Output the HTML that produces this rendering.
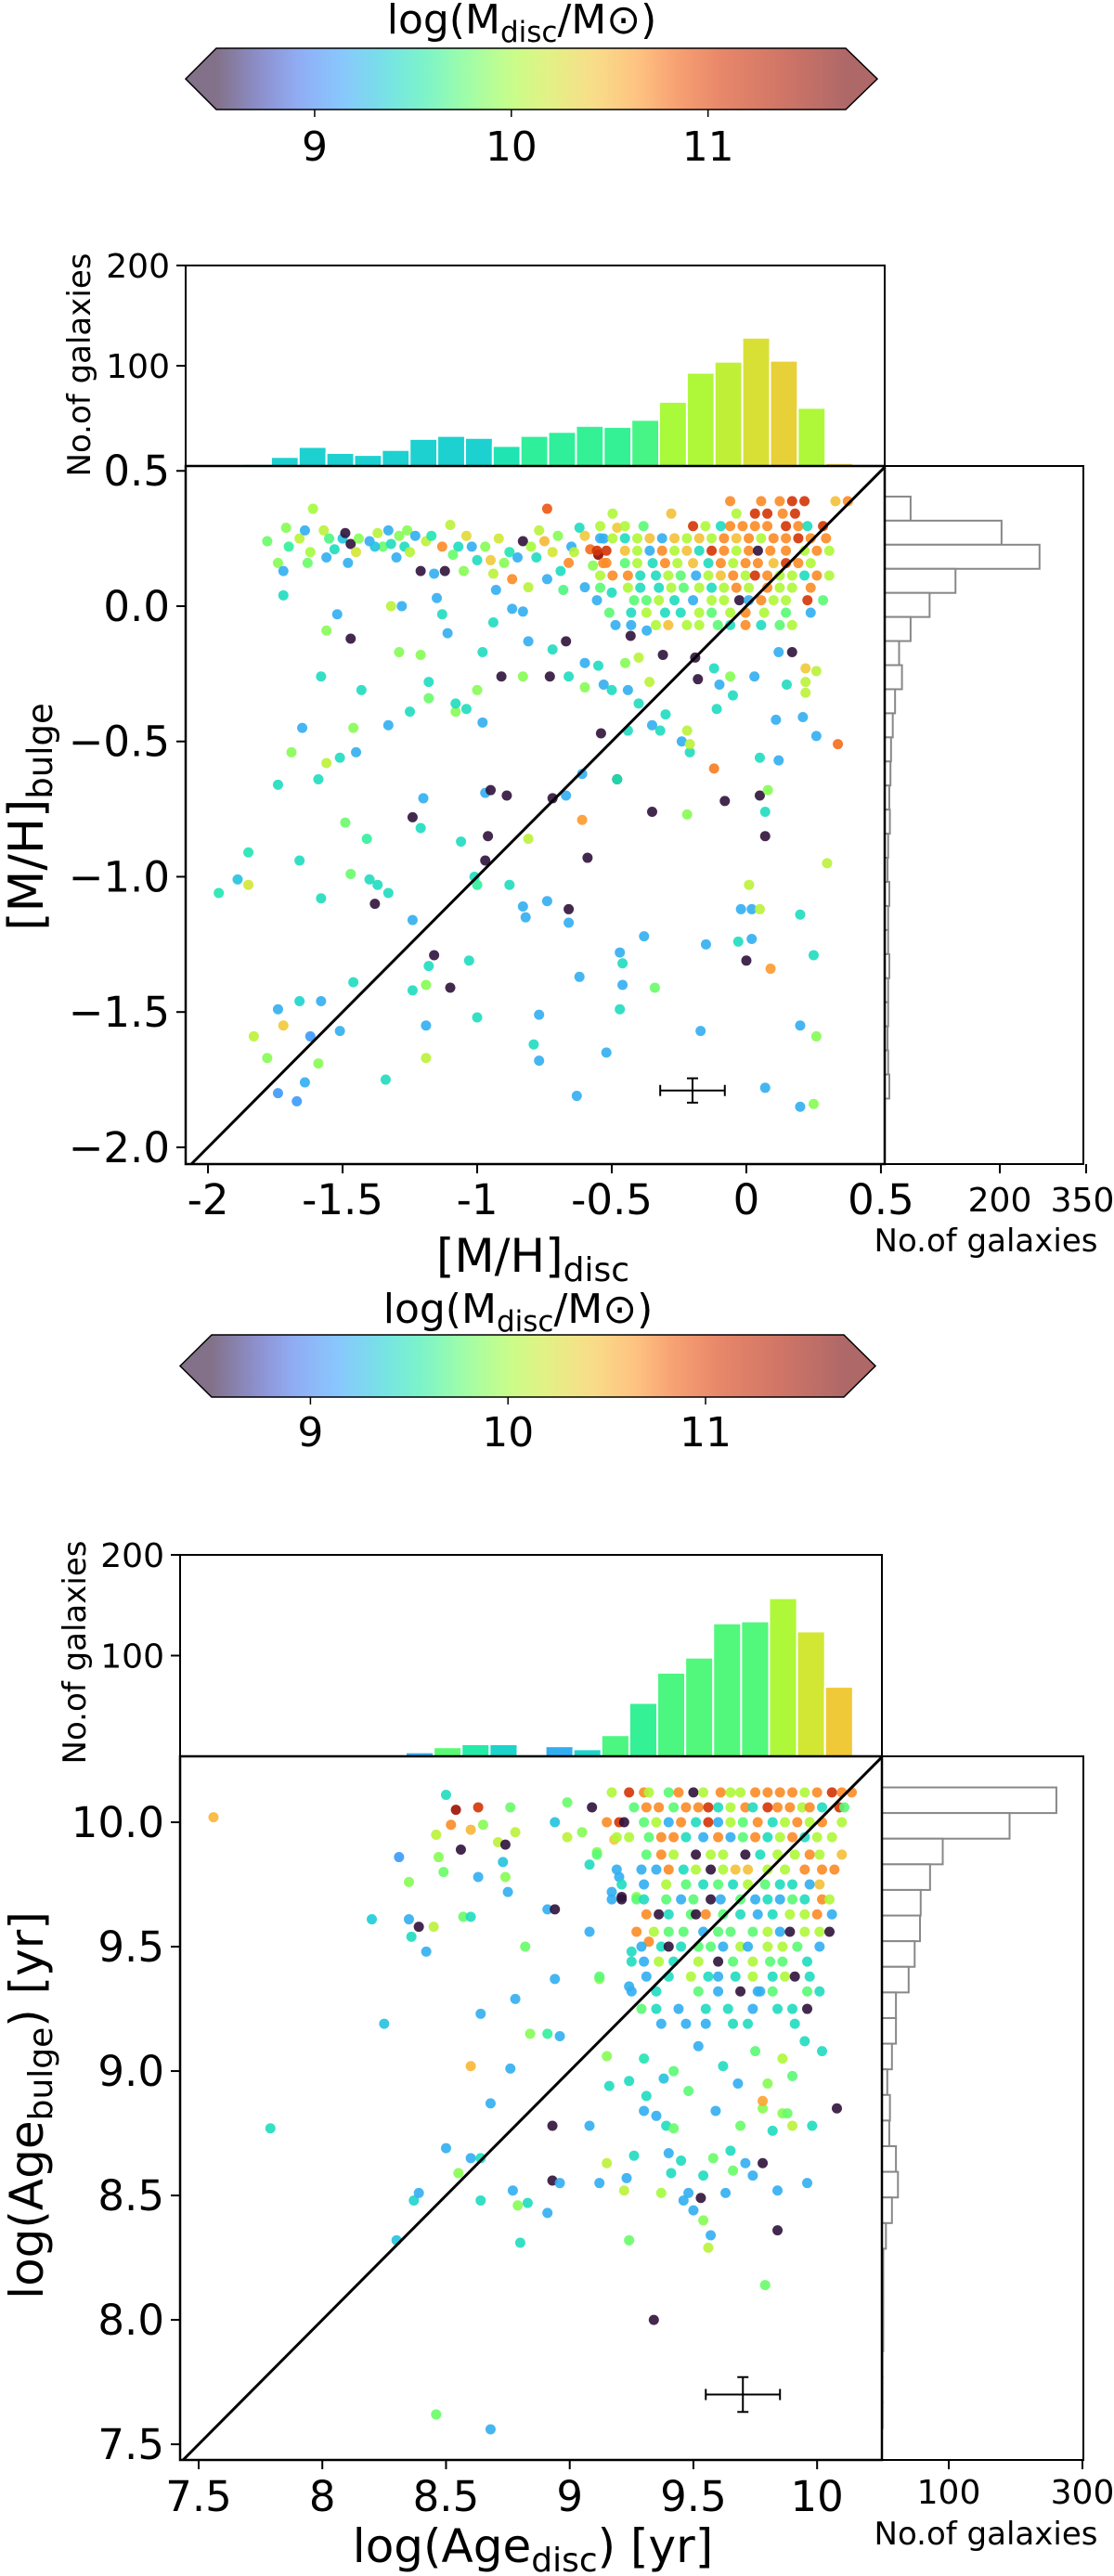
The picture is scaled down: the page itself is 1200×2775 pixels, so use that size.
<!DOCTYPE html>
<html><head><meta charset="utf-8"><style>
html,body{margin:0;padding:0;background:#fff;}
svg{display:block;}
text{font-family:"DejaVu Sans","Liberation Sans",sans-serif;fill:#000;}
</style></head><body>
<svg id="fig" xmlns="http://www.w3.org/2000/svg" width="1200" height="2775" viewBox="0 0 1200 2775">
<defs>
<linearGradient id="cbgrad" x1="0" x2="1" y1="0" y2="0"></linearGradient>
</defs>
<text x="562" y="36" font-size="44" text-anchor="middle">log(M<tspan font-size="31" dy="9">disc</tspan><tspan dy="-9">/M⊙)</tspan></text>
<text x="558" y="1425" font-size="44" text-anchor="middle">log(M<tspan font-size="31" dy="9">disc</tspan><tspan dy="-9">/M⊙)</tspan></text>
<text x="574" y="1370" font-size="50" text-anchor="middle">[M/H]<tspan font-size="36" dy="10">disc</tspan></text>
<text transform="translate(46,880) rotate(-90)" font-size="52" text-anchor="middle">[M/H]<tspan font-size="37" dy="10">bulge</tspan></text>
<text transform="translate(97,393) rotate(-90)" font-size="34" text-anchor="middle">No.of galaxies</text>
<text x="1062" y="1348" font-size="34" text-anchor="middle">No.of galaxies</text>
<text x="574" y="2760" font-size="50" text-anchor="middle">log(Age<tspan font-size="36" dy="10">disc</tspan><tspan dy="-10">) [yr]</tspan></text>
<text transform="translate(46,2268) rotate(-90)" font-size="50" text-anchor="middle">log(Age<tspan font-size="36" dy="10">bulge</tspan><tspan dy="-10">) [yr]</tspan></text>
<text transform="translate(92,1780) rotate(-90)" font-size="34" text-anchor="middle">No.of galaxies</text>
<text x="1062" y="2741" font-size="34" text-anchor="middle">No.of galaxies</text>
</svg>
<script>
// ---------- data: metallicity panel ----------
const metalHistCounts=[2,9,19,13,11,16,27,30,28,20,30,34,40,39,46,64,93,104,128,105,58,3];
const metalHistMass=[9.38,9.38,9.38,9.38,9.38,9.38,9.38,9.38,9.38,9.5,9.6,9.6,9.62,9.62,9.68,10.02,10.05,10.12,10.25,10.35,10.05,10.35];
const metalHistStart=-1.869, metalHistWidth=0.103;
const metalSideCounts=[45,203,269,123,78,45,25,30,18,14,11,10,8,9,6,5,8,6,6,8,6,6,5,6,8];
const metalSideStart=0.405, metalSideWidth=0.089;
const metalXTicks=[-2,-1.5,-1,-0.5,0,0.5];
const metalXTickLabels=['-2','-1.5','-1','-0.5','0','0.5'];
const metalYTicks=[0.5,0,-0.5,-1,-1.5,-2];
const metalYTickLabels=['0.5','0.0','\u22120.5','\u22121.0','\u22121.5','\u22122.0'];
const metalHistTicks=[100,200];
const metalSideTicks=[200,350];
const metalErr=[-0.2,-1.79,0.12,0.045];
const metalPoints=[
[-1.96,-1.06,9.5],[-1.89,-1.01,9.3],[-1.85,-1.03,10.2],[-1.85,-0.91,9.5],[-1.83,-1.59,10.1],[-1.78,-1.67,9.9],[-1.74,-1.80,9.1],[-1.74,-0.66,9.45],[-1.74,-1.49,9.2],[-1.72,-1.55,10.4],
[-1.69,-0.54,9.9],[-1.67,-1.83,9.1],[-1.66,-0.94,9.45],[-1.66,-1.46,9.4],[-1.65,-0.45,9.2],[-1.64,-1.76,9.2],[-1.62,-1.59,9.1],[-1.59,-1.69,9.9],[-1.59,-0.64,9.45],[-1.58,-1.08,9.45],
[-1.58,-1.46,9.2],[-1.56,-0.58,10.1],[-1.58,-0.26,9.45],[-1.56,-0.09,9.9],[-1.52,-0.03,9.2],[-1.51,-0.56,9.45],[-1.51,-1.57,9.2],[-1.49,-0.80,9.8],[-1.47,-0.12,8.5],[-1.47,-0.99,9.8],
[-1.46,-0.45,9.9],[-1.46,-1.39,9.45],[-1.45,-0.54,9.2],[-1.43,-0.31,9.45],[-1.41,-0.86,9.6],[-1.40,-1.01,9.45],[-1.38,-1.10,8.5],[-1.37,-1.03,9.45],[-1.34,-1.75,9.45],[-1.33,-0.44,9.2],
[-1.33,-1.06,9.45],[-1.32,0.0,10.1],[-1.28,0.0,9.2],[-1.29,-0.17,9.9],[-1.25,-0.39,9.45],[-1.24,-1.42,9.45],[-1.24,-1.16,9.2],[-1.24,-0.78,8.5],[-1.21,-0.18,9.9],[-1.20,-0.71,9.2],
[-1.21,-0.82,9.45],[-1.19,-1.55,9.2],[-1.19,-1.67,10.1],[-1.19,-1.40,9.9],[-1.18,-1.33,9.45],[-1.18,-0.28,9.45],[-1.18,-0.34,9.8],[-1.16,-1.29,8.5],[-1.15,0.03,9.2],[-1.13,-0.03,9.45],
[-1.11,-0.10,9.2],[-1.10,-1.41,8.5],[-1.08,-0.39,9.9],[-1.08,-0.36,9.45],[-1.06,-0.87,9.45],[-1.04,-0.38,9.45],[-1.03,-1.31,9.45],[-1.01,-1.00,9.45],[-1.00,-0.31,9.9],[-1.00,-1.52,9.45],
[-1.00,-1.03,9.6],[-0.98,-0.17,9.45],[-0.98,-0.43,9.2],[-0.97,-0.94,8.5],[-0.96,-0.85,8.5],[-0.97,-0.69,9.2],[-0.95,-0.68,8.5],[-0.94,-0.06,9.45],[-0.91,-0.26,8.5],[-0.89,-0.70,8.5],
[-0.88,-1.03,9.45],[-0.87,-0.01,9.2],[-0.83,-1.11,9.2],[-0.82,-1.15,9.2],[-0.81,-0.86,10.1],[-0.83,-0.26,9.9],[-0.83,-0.02,9.2],[-0.81,-0.13,9.2],[-0.79,-1.62,9.45],[-0.77,-1.68,9.2],
[-0.77,-1.51,9.2],[-0.74,-1.09,9.2],[-0.73,-0.26,8.5],[-0.72,-0.71,8.5],[-0.72,-0.16,9.45],[-0.67,-0.13,8.5],[-0.66,-0.26,9.45],[-0.66,-1.12,8.5],[-0.66,-1.17,9.2],[-0.67,-0.70,9.2],
[-0.62,-1.37,9.2],[-0.63,-1.81,9.2],[-0.60,-0.21,9.2],[-0.60,-0.30,9.9],[-0.61,-0.62,9.2],[-0.61,-0.79,10.65],[-0.59,-0.93,8.5],[-0.55,-0.22,9.45],[-0.54,-0.47,8.5],[-0.53,-0.29,9.2],
[-0.52,-1.65,9.2],[-0.50,-0.31,9.45],[-0.48,-0.64,8.5],[-0.48,-0.64,9.5],[-0.47,-1.28,9.2],[-0.46,-1.32,9.45],[-0.46,-1.40,9.2],[-0.47,-1.49,9.45],[-0.45,-0.21,9.9],[-0.44,-0.31,9.2],
[-0.44,-0.46,9.45],[-0.43,-0.11,8.5],[-0.40,-0.19,10.1],[-0.40,-0.36,9.45],[-0.38,-1.22,9.2],[-0.37,-0.09,9.2],[-0.36,-0.28,10.1],[-0.35,-0.44,9.2],[-0.35,-0.76,8.5],[-0.34,-1.41,9.8],
[-0.32,-0.46,9.45],[-0.31,-0.18,8.5],[-0.30,-0.40,9.45],[-0.24,-0.50,9.2],[-0.22,-0.46,10.1],[-0.22,-0.77,9.9],[-0.21,-0.54,9.45],[-0.21,-0.51,10.1],[-0.19,-0.19,8.5],[-0.18,-0.27,8.5],
[-0.17,-1.57,9.2],[-0.15,-1.25,9.2],[-0.12,-0.60,10.75],[-0.12,-0.23,9.45],[-0.11,-0.38,9.45],[-0.10,-0.29,9.2],[-0.08,-0.72,8.5],[-0.06,-0.26,9.9],[-0.05,-0.33,9.45],[-0.03,-1.24,9.45],
[-0.02,-1.12,9.2],[0.0,-1.31,8.5],[0.01,-1.03,10.1],[0.02,-1.23,9.2],[0.02,-1.12,9.2],[0.03,-0.26,9.2],[0.05,-0.70,8.5],[0.05,-1.12,10.1],[0.05,-0.56,9.45],[0.07,-0.85,8.5],
[0.07,-0.76,9.45],[0.07,-1.78,9.2],[0.08,-0.68,9.9],[0.09,-1.34,10.65],[0.11,-0.42,9.2],[0.12,-0.57,9.2],[0.12,-0.17,9.2],[0.15,-0.29,9.45],[0.17,-0.17,8.5],[0.20,-1.14,9.45],
[0.20,-1.55,9.2],[0.20,-1.85,9.2],[0.21,-0.41,9.2],[0.22,-0.28,10.1],[0.25,-1.29,9.45],[0.26,-1.59,9.9],[0.25,-1.84,9.9],[0.26,-0.24,10.1],[0.22,-0.23,10.4],[0.22,-0.32,10.1],
[0.26,-0.48,9.2],[0.30,-0.95,10.1],[0.34,-0.51,10.8],
[-1.78,0.24,9.8],[-1.71,0.29,9.9],[-1.74,0.16,9.9],[-1.72,0.13,9.2],[-1.72,0.04,9.45],[-1.66,0.25,10.1],[-1.64,0.28,9.2],[-1.63,0.16,9.8],[-1.61,0.36,10.0],[-1.57,0.28,10.1],
[-1.56,0.18,9.2],[-1.53,0.21,9.45],[-1.50,0.25,9.3],[-1.49,0.27,8.5],[-1.48,0.16,9.2],[-1.47,0.23,8.5],[-1.44,0.25,9.9],[-1.40,0.24,9.2],[-1.37,0.27,10.1],[-1.35,0.22,9.8],
[-1.33,0.28,9.2],[-1.32,0.23,9.45],[-1.30,0.18,9.2],[-1.27,0.22,9.45],[-1.26,0.28,9.9],[-1.23,0.26,9.2],[-1.21,0.13,8.5],[-1.19,0.24,10.1],[-1.16,0.12,9.2],[-1.13,0.22,10.7],
[-1.12,0.13,8.5],[-1.10,0.30,10.1],[-1.07,0.22,9.45],[-1.05,0.13,9.9],[-1.02,0.22,9.2],[-1.00,0.17,9.45],[-0.95,0.17,10.4],[-0.94,0.12,10.1],[-0.93,0.06,9.2],[-0.90,0.16,9.9],
[-0.87,0.10,10.7],[-0.85,0.18,9.2],[-0.83,0.24,8.5],[-0.81,0.07,10.1],[-0.78,0.18,9.45],[-0.77,0.28,10.1],[-0.74,0.10,9.2],[-0.74,0.36,10.9],[-0.72,0.20,10.2],[-0.69,0.13,9.45],
[-0.66,0.16,10.7],[-0.65,0.22,9.2],[-0.62,0.29,9.45],[-0.60,0.07,9.2],[-0.58,0.21,10.8],[-0.55,0.19,11.6],[-0.53,0.25,9.2],[-0.52,0.16,10.7],[-0.50,0.05,9.45],[-0.48,0.29,10.4],
[-1.70,0.22,9.6],[-1.62,0.20,10.0],[-1.55,0.25,9.7],[-1.45,0.20,10.2],[-1.38,0.22,9.3],[-1.29,0.26,9.9],[-1.25,0.20,10.1],[-1.17,0.26,9.5],[-1.09,0.19,9.8],[-1.04,0.26,10.3],
[-0.97,0.22,9.9],[-0.92,0.25,10.2],[-0.88,0.20,9.5],[-0.80,0.22,10.0],[-0.75,0.24,10.5],[-0.70,0.26,9.9],[-0.64,0.20,10.1],[-0.60,0.26,10.4],[-0.57,0.15,9.9],[-0.68,0.06,9.7]
];
const metalClusterPoints=[
[-0.060,0.388,10.7],[0.055,0.388,10.7],[0.124,0.388,10.7],[0.170,0.388,11.1],[0.216,0.388,11.1],[0.331,0.388,10.45],[0.377,0.388,10.7],
[-0.497,0.342,10.05],[-0.279,0.342,10.45],[-0.037,0.342,10.05],[0.032,0.342,11.1],[0.078,0.342,11.1],[0.135,0.342,10.7],[0.181,0.342,11.1],
[-0.543,0.296,10.05],[-0.451,0.296,10.05],[-0.382,0.296,9.75],[-0.198,0.296,11.1],[-0.152,0.296,10.05],[-0.095,0.296,9.45],[-0.060,0.296,10.7],[-0.014,0.296,10.7],[0.032,0.296,10.7],[0.078,0.296,10.7],[0.147,0.296,11.1],[0.193,0.296,10.7],[0.227,0.296,9.45],[0.285,0.296,11.1],
[-0.543,0.251,9.2],[-0.497,0.251,10.05],[-0.451,0.251,9.45],[-0.405,0.251,10.05],[-0.359,0.251,10.45],[-0.313,0.251,9.2],[-0.267,0.251,10.45],[-0.221,0.251,10.05],[-0.175,0.251,10.45],[-0.129,0.251,10.05],[-0.083,0.251,10.7],[-0.037,0.251,10.45],[0.009,0.251,10.7],[0.055,0.251,10.05],[0.101,0.251,10.7],[0.147,0.251,10.7],[0.193,0.251,11.1],[0.239,0.251,10.7],[0.296,0.251,10.7],
[-0.555,0.205,11.1],[-0.520,0.205,11.1],[-0.451,0.205,10.45],[-0.405,0.205,10.05],[-0.359,0.205,9.2],[-0.313,0.205,10.7],[-0.267,0.205,10.05],[-0.221,0.205,10.45],[-0.175,0.205,9.45],[-0.129,0.205,11.1],[-0.083,0.205,10.7],[-0.037,0.205,10.05],[0.009,0.205,10.7],[0.043,0.205,8.5],[0.089,0.205,10.7],[0.147,0.205,10.7],[0.216,0.205,10.05],[0.262,0.205,10.7],[0.308,0.205,10.05],
[-0.532,0.159,10.7],[-0.451,0.159,9.75],[-0.405,0.159,10.05],[-0.348,0.159,9.45],[-0.302,0.159,10.7],[-0.256,0.159,10.05],[-0.198,0.159,10.45],[-0.141,0.159,9.45],[-0.095,0.159,10.7],[-0.049,0.159,10.05],[-0.003,0.159,10.7],[0.043,0.159,10.7],[0.101,0.159,10.45],[0.147,0.159,11.1],[0.193,0.159,10.7],[0.239,0.159,10.05],
[-0.543,0.113,10.05],[-0.497,0.113,10.7],[-0.440,0.113,10.7],[-0.394,0.113,9.45],[-0.336,0.113,9.45],[-0.290,0.113,10.05],[-0.244,0.113,9.75],[-0.187,0.113,9.2],[-0.141,0.113,10.05],[-0.095,0.113,10.45],[-0.049,0.113,10.7],[-0.003,0.113,10.05],[0.032,0.113,11.1],[0.078,0.113,10.7],[0.124,0.113,10.05],[0.170,0.113,10.05],[0.216,0.113,9.45],[0.262,0.113,10.7],[0.308,0.113,10.05],
[-0.543,0.068,9.75],[-0.440,0.068,10.05],[-0.394,0.068,9.45],[-0.325,0.068,9.45],[-0.279,0.068,10.05],[-0.233,0.068,9.75],[-0.175,0.068,10.05],[-0.129,0.068,9.45],[-0.083,0.068,10.05],[-0.037,0.068,10.7],[0.009,0.068,10.05],[0.078,0.068,10.7],[0.124,0.068,10.05],[0.170,0.068,10.05],[0.239,0.068,10.7],
[-0.555,0.022,9.2],[-0.417,0.022,9.75],[-0.371,0.022,9.75],[-0.325,0.022,10.05],[-0.267,0.022,9.45],[-0.198,0.022,9.2],[-0.129,0.022,10.05],[-0.083,0.022,10.05],[-0.026,0.022,8.5],[0.009,0.022,9.2],[0.055,0.022,10.7],[0.101,0.022,10.05],[0.147,0.022,10.05],[0.227,0.022,11.1],[0.285,0.022,9.75],
[-0.509,-0.024,9.75],[-0.428,-0.024,9.45],[-0.371,-0.024,10.05],[-0.302,-0.024,9.45],[-0.244,-0.024,9.45],[-0.175,-0.024,10.05],[-0.129,-0.024,9.75],[-0.060,-0.024,10.05],[-0.003,-0.024,10.7],[0.066,-0.024,10.05],[0.147,-0.024,9.75],[0.239,-0.024,9.2],
[-0.486,-0.070,9.2],[-0.428,-0.070,9.2],[-0.336,-0.070,10.05],[-0.290,-0.070,10.45],[-0.221,-0.070,10.05],[-0.175,-0.070,10.05],[-0.106,-0.070,9.75],[-0.060,-0.070,9.45],[-0.003,-0.070,10.7],[0.055,-0.070,9.45],[0.124,-0.070,9.75],[0.170,-0.070,10.05]
];
// ---------- data: age panel ----------
const ageHistCounts=[1,4,9,12,12,2,10,7,21,53,83,98,132,134,157,124,69];
const ageHistMass=[9.25,9.2,9.75,9.55,9.4,9.4,9.2,9.4,9.7,9.62,9.7,9.72,9.72,9.72,10.05,10.2,10.4];
const ageHistStart=8.224, ageHistWidth=0.113;
const ageSideCounts=[261,191,91,72,58,57,49,40,21,21,15,8,12,11,21,24,15,6,2,2,2,2,1,1,1];
const ageSideStart=10.14, ageSideWidth=0.103;
const ageXTicks=[7.5,8,8.5,9,9.5,10];
const ageXTickLabels=['7.5','8','8.5','9','9.5','10'];
const ageYTicks=[10,9.5,9,8.5,8,7.5];
const ageYTickLabels=['10.0','9.5','9.0','8.5','8.0','7.5'];
const ageHistTicks=[100,200];
const ageSideTicks=[100,300];
const ageErr=[9.70,7.70,0.15,0.07];
const agePoints=[
[7.56,10.02,10.5],[7.79,8.77,9.45],[8.20,9.61,9.35],[8.25,9.19,9.3],[8.30,8.32,9.3],[8.31,9.86,9.1],[8.35,9.76,9.9],[8.36,9.54,9.45],[8.35,9.61,9.2],[8.37,8.48,9.4],
[8.39,9.58,8.5],[8.39,8.51,9.2],[8.42,9.48,9.2],[8.45,9.58,10.1],[8.46,9.95,10.1],[8.46,7.62,9.8],[8.47,9.86,9.9],[8.49,9.80,9.8],[8.50,8.69,9.2],[8.50,10.11,9.45],
[8.52,9.99,10.7],[8.54,10.05,11.5],[8.55,8.59,9.9],[8.56,9.89,8.5],[8.57,9.62,9.8],[8.60,9.62,9.45],[8.60,9.97,10.5],[8.60,8.65,9.2],[8.60,9.02,10.5],[8.63,10.06,11.1],
[8.64,8.65,9.45],[8.64,9.23,9.2],[8.64,8.48,9.45],[8.63,9.78,9.2],[8.65,9.99,9.9],[8.68,8.87,9.2],[8.68,7.56,9.2],[8.71,9.92,10.1],[8.73,9.84,9.3],[8.74,9.91,8.5],
[8.74,9.78,9.9],[8.75,9.72,9.2],[8.76,9.01,9.2],[8.76,10.06,9.8],[8.77,8.52,9.2],[8.78,9.29,9.2],[8.78,9.96,10.1],[8.79,8.46,9.9],[8.80,8.31,9.45],[8.82,9.50,9.8],
[8.84,9.15,9.9],[8.83,8.47,9.45],[8.91,9.65,9.2],[8.91,9.15,9.6],[8.91,8.43,9.2],[8.93,8.78,8.5],[8.93,8.56,8.5],[8.94,9.65,8.5],[8.94,10.00,9.3],[8.94,9.37,9.2],
[8.96,9.14,9.2],[8.96,8.55,9.2],[8.99,10.08,9.8],[8.99,9.94,10.1],[9.05,9.96,9.9],[9.08,8.78,9.2],[9.08,9.56,9.2],[9.08,9.83,9.45],[9.09,10.06,8.5],[9.11,9.88,9.9],
[9.12,9.37,9.9],[9.12,8.55,9.2],[9.15,9.06,9.9],[9.15,8.63,10.1],[9.16,8.94,9.45],[9.17,9.72,9.2],[9.18,9.93,10.4],[9.20,9.78,9.2],[9.21,9.70,8.5],[9.22,8.52,10.1],
[9.23,8.57,9.2],[9.24,8.32,9.8],[9.24,8.96,9.45],[9.24,9.34,9.2],[9.25,9.48,9.45],[9.26,8.66,9.45],[9.27,9.70,9.9],[9.30,8.84,9.2],[9.31,8.90,9.45],[9.32,9.52,10.7],
[9.34,8.00,8.5],[9.35,8.82,9.2],[9.37,8.51,10.0],[9.38,8.97,9.3],[9.39,8.78,9.45],[9.40,8.67,9.2],[9.41,8.59,9.45],[9.42,8.77,9.8],[9.45,8.64,9.45],[9.46,8.48,9.2],
[9.48,8.51,9.2],[9.50,8.44,9.2],[9.53,8.49,8.5],[9.54,8.40,9.9],[9.54,8.58,9.45],[9.56,8.29,10.1],[9.57,8.34,9.2],[9.58,8.65,9.8],[9.59,8.84,9.2],[9.63,8.51,9.2],
[9.65,8.68,9.45],[9.66,8.60,9.8],[9.69,8.78,9.8],[9.71,8.63,9.2],[9.74,8.58,9.2],[9.78,8.63,8.5],[9.78,8.85,9.9],[9.79,8.14,9.8],[9.80,8.95,9.9],[9.82,8.76,9.45],
[9.84,8.52,9.2],[9.84,8.36,8.5],[9.86,8.83,9.9],[9.88,8.83,9.8],[9.90,8.78,10.1],[9.96,8.55,9.2],[9.98,8.78,9.45],[10.02,9.08,9.45],[10.08,8.85,8.5],[9.78,8.88,10.6],
[9.30,9.05,9.5],[9.42,9.00,9.75],[9.52,9.10,9.2],[9.62,9.02,9.45],[9.75,9.08,9.75],[9.86,9.05,10.05],[9.95,9.12,9.45],[9.48,8.92,9.75],[9.68,8.95,9.2],[9.90,8.98,9.75]
];
const ageClusterPoints=[
[9.17,10.12,10.05],[9.24,10.12,11.1],[9.30,10.12,10.7],[9.32,10.12,10.05],[9.40,10.12,9.75],[9.44,10.12,10.7],[9.50,10.12,8.5],[9.54,10.12,10.05],[9.61,10.12,10.7],[9.65,10.12,10.05],[9.69,10.12,10.05],[9.75,10.12,10.7],[9.80,10.12,10.7],[9.85,10.12,10.7],[9.90,10.12,10.7],[9.95,10.12,10.05],[10.00,10.12,10.7],[10.06,10.12,11.1],[10.10,10.12,10.7],[10.14,10.12,10.7],
[9.26,10.06,9.75],[9.31,10.06,10.7],[9.36,10.06,10.7],[9.42,10.06,9.75],[9.47,10.06,10.7],[9.52,10.06,10.7],[9.56,10.06,11.1],[9.60,10.06,9.45],[9.65,10.06,10.05],[9.71,10.06,10.7],[9.74,10.06,9.45],[9.80,10.06,11.1],[9.84,10.06,10.7],[9.89,10.06,10.7],[9.94,10.06,10.05],[9.97,10.06,10.7],[10.02,10.06,9.45],[10.09,10.06,11.1],[10.11,10.06,9.75],
[9.15,10.00,10.7],[9.20,10.00,11.1],[9.22,10.00,8.5],[9.30,10.00,9.75],[9.35,10.00,10.05],[9.40,10.00,9.2],[9.45,10.00,10.7],[9.51,10.00,9.45],[9.56,10.00,11.1],[9.60,10.00,9.2],[9.65,10.00,10.05],[9.70,10.00,9.75],[9.76,10.00,10.7],[9.82,10.00,9.45],[9.87,10.00,10.05],[9.92,10.00,10.7],[9.97,10.00,10.05],[10.02,10.00,10.7],[10.10,10.00,10.05],
[9.19,9.94,10.05],[9.24,9.94,10.05],[9.32,9.94,9.75],[9.37,9.94,10.7],[9.42,9.94,10.7],[9.47,9.94,9.45],[9.54,9.94,9.2],[9.60,9.94,10.7],[9.65,9.94,9.2],[9.70,9.94,9.75],[9.75,9.94,10.7],[9.80,9.94,9.45],[9.85,9.94,10.05],[9.90,9.94,10.7],[9.95,9.94,9.45],[10.00,9.94,10.05],[10.06,9.94,10.05],
[9.11,9.87,9.75],[9.31,9.87,9.75],[9.37,9.87,10.7],[9.42,9.87,10.05],[9.51,9.87,8.5],[9.57,9.87,10.05],[9.62,9.87,10.05],[9.71,9.87,8.5],[9.77,9.87,9.45],[9.84,9.87,10.05],[9.91,9.87,10.05],[9.97,9.87,10.7],[10.01,9.87,10.05],[10.10,9.87,10.45],
[9.19,9.81,9.2],[9.29,9.81,9.2],[9.35,9.81,9.2],[9.40,9.81,10.7],[9.46,9.81,9.45],[9.51,9.81,10.05],[9.57,9.81,8.5],[9.62,9.81,10.05],[9.67,9.81,10.45],[9.72,9.81,10.45],[9.80,9.81,10.05],[9.87,9.81,10.05],[9.95,9.81,10.7],[10.02,9.81,10.7],[10.07,9.81,10.7],
[9.21,9.75,9.45],[9.30,9.75,9.2],[9.39,9.75,10.05],[9.47,9.75,9.75],[9.54,9.75,9.45],[9.60,9.75,9.75],[9.66,9.75,9.45],[9.72,9.75,10.05],[9.79,9.75,9.75],[9.85,9.75,9.45],[9.90,9.75,9.45],[9.97,9.75,9.2],[10.01,9.75,10.45],
[9.17,9.69,9.2],[9.21,9.69,8.5],[9.27,9.69,9.75],[9.30,9.69,9.45],[9.39,9.69,9.75],[9.45,9.69,9.2],[9.50,9.69,9.75],[9.57,9.69,8.5],[9.61,9.69,9.2],[9.69,9.69,9.75],[9.75,9.69,9.2],[9.80,9.69,9.45],[9.85,9.69,9.2],[9.90,9.69,9.75],[9.95,9.69,9.45],[10.02,9.69,10.7],[10.05,9.69,10.05],
[9.31,9.63,10.7],[9.36,9.63,8.5],[9.40,9.63,9.45],[9.49,9.63,9.75],[9.51,9.63,8.5],[9.55,9.63,10.7],[9.62,9.63,9.75],[9.69,9.63,9.45],[9.76,9.63,9.2],[9.82,9.63,9.45],[9.89,9.63,10.05],[9.95,9.63,10.05],[10.00,9.63,10.7],[10.06,9.63,9.2],
[9.27,9.56,10.7],[9.34,9.56,10.05],[9.40,9.56,9.75],[9.46,9.56,9.75],[9.54,9.56,9.2],[9.60,9.56,9.75],[9.65,9.56,9.75],[9.74,9.56,9.75],[9.80,9.56,10.05],[9.85,9.56,9.2],[9.89,9.56,8.5],[9.95,9.56,10.05],[10.01,9.56,10.05],[10.05,9.56,8.5],
[9.29,9.50,9.2],[9.37,9.50,9.45],[9.40,9.50,8.5],[9.45,9.50,9.45],[9.52,9.50,9.75],[9.57,9.50,9.75],[9.62,9.50,9.2],[9.69,9.50,10.05],[9.72,9.50,9.2],[9.80,9.50,10.05],[9.86,9.50,10.05],[9.92,9.50,9.75],[10.01,9.50,9.2],
[9.25,9.44,9.45],[9.30,9.44,9.2],[9.36,9.44,10.05],[9.42,9.44,9.45],[9.52,9.44,10.05],[9.60,9.44,8.5],[9.66,9.44,9.75],[9.74,9.44,10.05],[9.81,9.44,9.75],[9.86,9.44,9.75],[9.96,9.44,9.45],
[9.12,9.38,9.75],[9.31,9.38,9.2],[9.40,9.38,9.45],[9.49,9.38,10.05],[9.56,9.38,9.45],[9.60,9.38,9.2],[9.67,9.38,9.45],[9.74,9.38,10.05],[9.82,9.38,9.45],[9.87,9.38,10.05],[9.91,9.38,8.5],[9.97,9.38,9.45],
[9.25,9.32,9.2],[9.35,9.32,9.45],[9.52,9.32,9.75],[9.60,9.32,9.2],[9.69,9.32,8.5],[9.76,9.32,9.2],[9.77,9.32,9.2],[9.82,9.32,9.75],[9.96,9.32,9.75],[10.01,9.32,9.45],
[9.29,9.25,9.75],[9.35,9.25,9.45],[9.44,9.25,9.2],[9.55,9.25,9.45],[9.64,9.25,9.45],[9.74,9.25,9.2],[9.84,9.25,9.45],[9.90,9.25,9.45],[9.96,9.25,8.5],
[9.37,9.19,9.2],[9.47,9.19,9.2],[9.55,9.19,9.2],[9.66,9.19,9.45],[9.72,9.19,9.45],[9.91,9.19,9.45]
];

// ---------- rendering ----------
const NS='http://www.w3.org/2000/svg';
const svg=document.getElementById('fig');
function mk(tag,attrs,parent){const e=document.createElementNS(NS,tag);for(const k in attrs)e.setAttribute(k,attrs[k]);(parent||svg).appendChild(e);return e;}
function lin(d0,d1,r0,r1){return v=>r0+(v-d0)*(r1-r0)/(d1-d0);}
const turboStops=[[0,[48,18,59]],[0.07,[65,69,171]],[0.13,[70,117,237]],[0.2,[57,162,252]],[0.27,[27,207,212]],[0.33,[36,236,166]],[0.4,[97,252,108]],[0.47,[164,252,59]],[0.53,[209,232,52]],[0.6,[243,198,58]],[0.67,[254,155,45]],[0.73,[243,99,21]],[0.8,[217,56,6]],[0.9,[177,25,1]],[1,[122,4,3]]];
function cmap(m,fade){let t=(m-8.5)/3.2;t=Math.max(0,Math.min(1,t));let i=0;while(i<turboStops.length-2&&t>turboStops[i+1][0])i++;const a=turboStops[i],b=turboStops[i+1];const f=(t-a[0])/(b[0]-a[0]);const c=a[1].map((v,k)=>v+(b[1][k]-v)*f);const fa=fade||0;return 'rgb('+c.map(v=>Math.round(v*(1-fa)+255*fa)).join(',')+')';}

const grad=document.getElementById('cbgrad');
for(let k=0;k<=40;k++){mk('stop',{offset:(k/40).toFixed(3),'stop-color':cmap(8.5+3.2*k/40,0.4)},grad);}

function colorbar(name,x0,x1,tipL,tipR,y0,y1,ticks,labY){
  const g=mk('g',{});
  
  
  const ym=(y0+y1)/2;
  mk('polygon',{points:`${tipL},${ym} ${x0},${y0} ${x0},${y1}`,fill:cmap(8.5,0.4)},g);
  mk('polygon',{points:`${tipR},${ym} ${x1},${y0} ${x1},${y1}`,fill:cmap(11.7,0.4)},g);
  mk('rect',{x:x0,y:y0,width:x1-x0,height:y1-y0,fill:'url(#cbgrad)'},g);
  mk('polygon',{points:`${tipL},${ym} ${x0},${y0} ${x1},${y0} ${tipR},${ym} ${x1},${y1} ${x0},${y1}`,fill:'none',stroke:'#000','stroke-width':1.5},g);
  const cx=lin(8.5,11.7,x0,x1);
  ticks.forEach(v=>{
    mk('line',{x1:cx(v),x2:cx(v),y1:y1,y2:y1+8,stroke:'#000','stroke-width':1.5},g);
    const t=mk('text',{x:cx(v),y:labY,'font-size':44,'text-anchor':'middle'},g);
    t.textContent=String(v);
    
    
  });
}
colorbar('colorbar-metallicity',233,911,200,945,52,118,[9,10,11],173);
colorbar('colorbar-age',228,909,194,943,1438,1505,[9,10,11],1558);

function panel(p){
  const X=lin(p.xd[0],p.xd[1],p.L,p.R), Y=lin(p.yd[0],p.yd[1],p.B,p.T);
  const g=mk('g',{});
  
  
  p.hc.forEach((c,i)=>{
    const xa=X(p.hs+i*p.hw), xb=X(p.hs+(i+1)*p.hw);
    const r=mk('rect',{x:xa,y:p.T-c*p.hk,width:xb-xa,height:c*p.hk,fill:cmap(p.hm[i]),stroke:'#fff','stroke-width':2},g);
    
    
  });
  p.sc.forEach((c,i)=>{
    const ya=Y(p.ss-i*p.sw), yb=Y(p.ss-(i+1)*p.sw);
    const r=mk('rect',{x:p.R,y:ya,width:c*p.sk,height:yb-ya,fill:'#fff',stroke:'#888','stroke-width':2},g);
    
    
  });
  mk('rect',{x:p.L,y:p.HT,width:p.R-p.L,height:p.T-p.HT,fill:'none',stroke:'#000','stroke-width':2},g);
  mk('rect',{x:p.R,y:p.T,width:p.SR-p.R,height:p.B-p.T,fill:'none',stroke:'#000','stroke-width':2},g);
  const sg=mk('g',{},g);
  
  
  p.pts.forEach(q=>{
    const c=mk('circle',{cx:X(q[0]),cy:Y(q[1]),r:5.5,fill:cmap(q[2]),'fill-opacity':0.9},sg);
    
    
  });
  const d=mk('line',{x1:X(Math.max(p.xd[0],p.yd[0])),y1:Y(Math.max(p.xd[0],p.yd[0])),x2:X(Math.min(p.xd[1],p.yd[1])),y2:Y(Math.min(p.xd[1],p.yd[1])),stroke:'#000','stroke-width':3},g);
  
  
  const e=p.err, eg=mk('g',{stroke:'#000','stroke-width':2},g);
  
  
  mk('line',{x1:X(e[0]-e[2]),x2:X(e[0]+e[2]),y1:Y(e[1]),y2:Y(e[1])},eg);
  mk('line',{x1:X(e[0]),x2:X(e[0]),y1:Y(e[1]-e[3]),y2:Y(e[1]+e[3])},eg);
  [e[0]-e[2],e[0]+e[2]].forEach(v=>mk('line',{x1:X(v),x2:X(v),y1:Y(e[1])-6,y2:Y(e[1])+6},eg));
  [e[1]-e[3],e[1]+e[3]].forEach(v=>mk('line',{x1:X(e[0])-6,x2:X(e[0])+6,y1:Y(v),y2:Y(v)},eg));
  mk('rect',{x:p.L,y:p.T,width:p.R-p.L,height:p.B-p.T,fill:'none',stroke:'#000','stroke-width':2.5},g);
  p.xt.forEach((v,i)=>{
    mk('line',{x1:X(v),x2:X(v),y1:p.B,y2:p.B+10,stroke:'#000','stroke-width':2},g);
    const t=mk('text',{x:X(v),y:p.xlb,'font-size':45,'text-anchor':'middle'},g);
    t.textContent=p.xl[i];
    
    
  });
  p.yt.forEach((v,i)=>{
    mk('line',{x1:p.L-10,x2:p.L,y1:Y(v),y2:Y(v),stroke:'#000','stroke-width':2},g);
    const t=mk('text',{x:p.L-17,y:Y(v)+16,'font-size':45,'text-anchor':'end'},g);
    t.textContent=p.yl[i];
    
    
  });
  p.ht.forEach(v=>{
    const yy=p.T-v*p.hk;
    mk('line',{x1:p.L-10,x2:p.L,y1:yy,y2:yy,stroke:'#000','stroke-width':2},g);
    const t=mk('text',{x:p.L-17,y:yy+13,'font-size':36,'text-anchor':'end'},g);
    t.textContent=String(v);
    
    
  });
  p.st.forEach(v=>{
    const xx=p.R+v*p.sk;
    mk('line',{x1:xx,x2:xx,y1:p.B,y2:p.B+10,stroke:'#000','stroke-width':2},g);
    const t=mk('text',{x:Math.min(xx,1200-34),y:p.slb,'font-size':36,'text-anchor':'middle'},g);
    t.textContent=String(v);
    
    
  });
}
panel({name:'metallicity',xd:[-2.083,0.514],yd:[-2.062,0.518],L:200,R:953,T:502,B:1254,HT:286,SR:1167,
  hc:metalHistCounts,hm:metalHistMass,hs:metalHistStart,hw:metalHistWidth,hk:1.08,
  sc:metalSideCounts,ss:metalSideStart,sw:metalSideWidth,sk:0.62,
  pts:metalPoints.concat(metalClusterPoints),err:metalErr,xt:metalXTicks,xl:metalXTickLabels,yt:metalYTicks,yl:metalYTickLabels,
  ht:metalHistTicks,st:metalSideTicks,xlb:1308,slb:1305});
panel({name:'age',xd:[7.425,10.262],yd:[7.437,10.265],L:194,R:950,T:1892,B:2650,HT:1675,SR:1167,
  hc:ageHistCounts,hm:ageHistMass,hs:ageHistStart,hw:ageHistWidth,hk:1.085,
  sc:ageSideCounts,ss:ageSideStart,sw:ageSideWidth,sk:0.72,
  pts:agePoints.concat(ageClusterPoints),err:ageErr,xt:ageXTicks,xl:ageXTickLabels,yt:ageYTicks,yl:ageYTickLabels,
  ht:ageHistTicks,st:ageSideTicks,xlb:2705,slb:2697});
</script>
</body></html>
